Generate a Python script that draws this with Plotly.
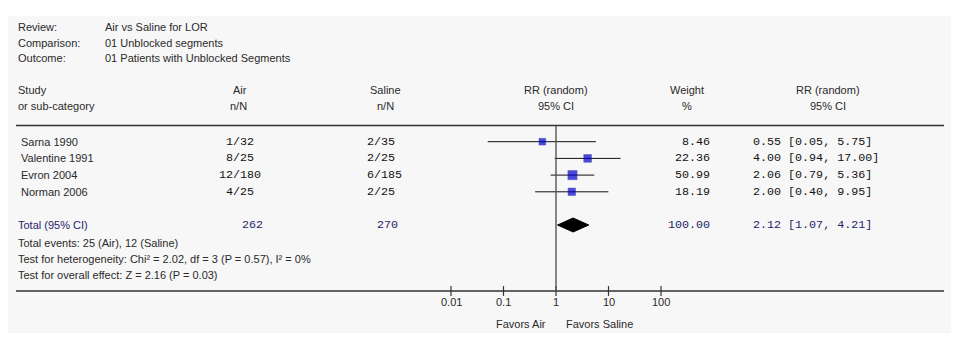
import plotly.graph_objects as go
import math

# ---- data ----
studies = ["Sarna 1990", "Valentine 1991", "Evron 2004", "Norman 2006"]
air_nN = ["1/32", "8/25", "12/180", "4/25"]
saline_nN = ["2/35", "2/25", "6/185", "2/25"]
weights = [8.46, 22.36, 50.99, 18.19]
rr = [0.55, 4.00, 2.06, 2.00]
ci_lo = [0.05, 0.94, 0.79, 0.40]
ci_hi = [5.75, 17.00, 5.36, 9.95]
total_air = 262
total_saline = 270
total_weight = 100.00
total_rr = 2.12
total_lo = 1.07
total_hi = 4.21
tick_vals = [0.01, 0.1, 1, 10, 100]
tick_text = ["0.01", "0.1", "1", "10", "100"]
header_info = [("Review:", "Air vs Saline for LOR"),
               ("Comparison:", "01 Unblocked segments"),
               ("Outcome:", "01 Patients with Unblocked Segments")]
footer_lines = ["Total events: 25 (Air), 12 (Saline)",
                "Test for heterogeneity: Chi\u00b2 = 2.02, df = 3 (P = 0.57), I\u00b2 = 0%",
                "Test for overall effect: Z = 2.16 (P = 0.03)"]

# ---- layout constants (page pixels) ----
PAGE_W, PAGE_H = 959, 345
OFF = 8                      # default body margin of the page
W, H = PAGE_W - OFF, PAGE_H - OFF
X_ONE = 556.0                # page pixel of RR = 1
DECADE = 52.5                # pixels per decade
row_y0, row_dy = 141.7, 16.7
total_y = 225
SANS = "Liberation Sans, Arial, sans-serif"
MONO = "Liberation Mono, Courier New, monospace"
TXT = "#2a2a2a"
NAVY = "#25256a"
FS = 11
FM = 11.7

def px(x):
    return (x - OFF) / W

def py(y):
    return y - OFF

row_ys = [py(row_y0 + i * row_dy) for i in range(len(studies))]
ty = py(total_y)

fig = go.Figure()

shapes = [
    dict(type="rect", xref="paper", yref="y", x0=px(8), x1=px(952), y0=py(16), y1=py(333),
         fillcolor="#f7f7f7", line=dict(width=0), layer="below"),
    dict(type="line", xref="paper", yref="y", x0=px(16), x1=px(944), y0=py(125.5), y1=py(125.5),
         line=dict(color="#333333", width=1.6)),
    dict(type="line", xref="paper", yref="y", x0=px(16), x1=px(944), y0=py(291), y1=py(291),
         line=dict(color="#333333", width=1.6)),
    dict(type="line", xref="x", yref="y", x0=1, x1=1, y0=py(126), y1=py(291),
         line=dict(color="#555555", width=1.4)),
]

# study markers with CI
sizes = [5 + 4.2 * math.sqrt(w / max(weights)) for w in weights]
fig.add_trace(go.Scatter(
    x=rr, y=row_ys, mode="markers",
    marker=dict(symbol="square", size=sizes, color="#0000cc",
                line=dict(color="#1010aa", width=0.5)),
    error_x=dict(type="data", symmetric=False,
                 array=[h - r for h, r in zip(ci_hi, rr)],
                 arrayminus=[r - l for r, l in zip(rr, ci_lo)],
                 color="#111111", thickness=1, width=0),
    hoverinfo="skip", showlegend=False))

# pooled diamond
half_h = 7
fig.add_trace(go.Scatter(
    x=[total_lo, total_rr, total_hi, total_rr, total_lo],
    y=[ty, ty - half_h, ty, ty + half_h, ty],
    mode="lines", fill="toself", fillcolor="#000000",
    line=dict(color="#000000", width=1), hoverinfo="skip", showlegend=False))

# axis ticks
fig.add_trace(go.Scatter(
    x=tick_vals, y=[py(291)] * len(tick_vals), mode="markers",
    marker=dict(symbol="line-ns", size=7, line=dict(color="#333333", width=1.2)),
    hoverinfo="skip", showlegend=False))

ann = []
def text(x, y, s, anchor="left", color=TXT, font=SANS, size=FS):
    ann.append(dict(x=px(x), y=py(y), xref="paper", yref="y",
                    text=s, showarrow=False, xanchor=anchor, yanchor="middle",
                    font=dict(family=font, size=size, color=color)))

# header info
for i, (k, v) in enumerate(header_info):
    y = 27 + i * 15.5
    text(16, y, k)
    text(103, y, v)

# column headers
text(16, 90, "Study")
text(16, 106, "or sub-category")
text(240, 90, "Air", "center")
text(238, 106, "n/N", "center")
text(385, 90, "Saline", "center")
text(385, 106, "n/N", "center")
text(X_ONE, 90, "RR (random)", "center")
text(X_ONE, 106, "95% CI", "center")
text(687, 90, "Weight", "center")
text(687, 106, "%", "center")
text(828, 90, "RR (random)", "center")
text(828, 106, "95% CI", "center")

# study rows
for i in range(len(studies)):
    y = row_y0 + i * row_dy
    text(19, y, studies[i])
    text(240, y, air_nN[i], "center", font=MONO, size=FM, color="#111111")
    text(365, y, saline_nN[i], "left", font=MONO, size=FM, color="#111111")
    text(712, y, f"{weights[i]:.2f}", "right", font=MONO, size=FM, color="#111111")
    text(751, y, f"{rr[i]:.2f} [{ci_lo[i]:.2f}, {ci_hi[i]:.2f}]", "left",
         font=MONO, size=FM, color="#111111")

# total row
text(16, total_y, "Total (95% CI)", color=NAVY)
text(252, total_y, str(total_air), "center", font=MONO, size=FM, color=NAVY)
text(387, total_y, str(total_saline), "center", font=MONO, size=FM, color=NAVY)
text(712, total_y, f"{total_weight:.2f}", "right", font=MONO, size=FM, color=NAVY)
text(751, total_y, f"{total_rr:.2f} [{total_lo:.2f}, {total_hi:.2f}]", "left",
     font=MONO, size=FM, color=NAVY)

# footer
for i, s in enumerate(footer_lines):
    text(16, 243 + i * 16, s)

# tick labels
for v, t in zip(tick_vals, tick_text):
    ann.append(dict(x=math.log10(v), y=py(302), xref="x", yref="y", text=t, showarrow=False,
                    xanchor="center", yanchor="middle",
                    font=dict(family=SANS, size=FS, color=TXT)))

text(521, 324, "Favors Air", "center")
text(599, 324, "Favors Saline", "center")

fig.update_layout(
    width=W, height=H, margin=dict(l=0, r=0, t=0, b=0),
    paper_bgcolor="white", plot_bgcolor="white",
    shapes=shapes, annotations=ann, showlegend=False,
    xaxis=dict(type="log", range=[-(X_ONE - OFF) / DECADE, (PAGE_W - X_ONE) / DECADE],
               visible=False, fixedrange=True),
    yaxis=dict(range=[H, 0], visible=False, fixedrange=True),
)

fig.write_html("out.html")
